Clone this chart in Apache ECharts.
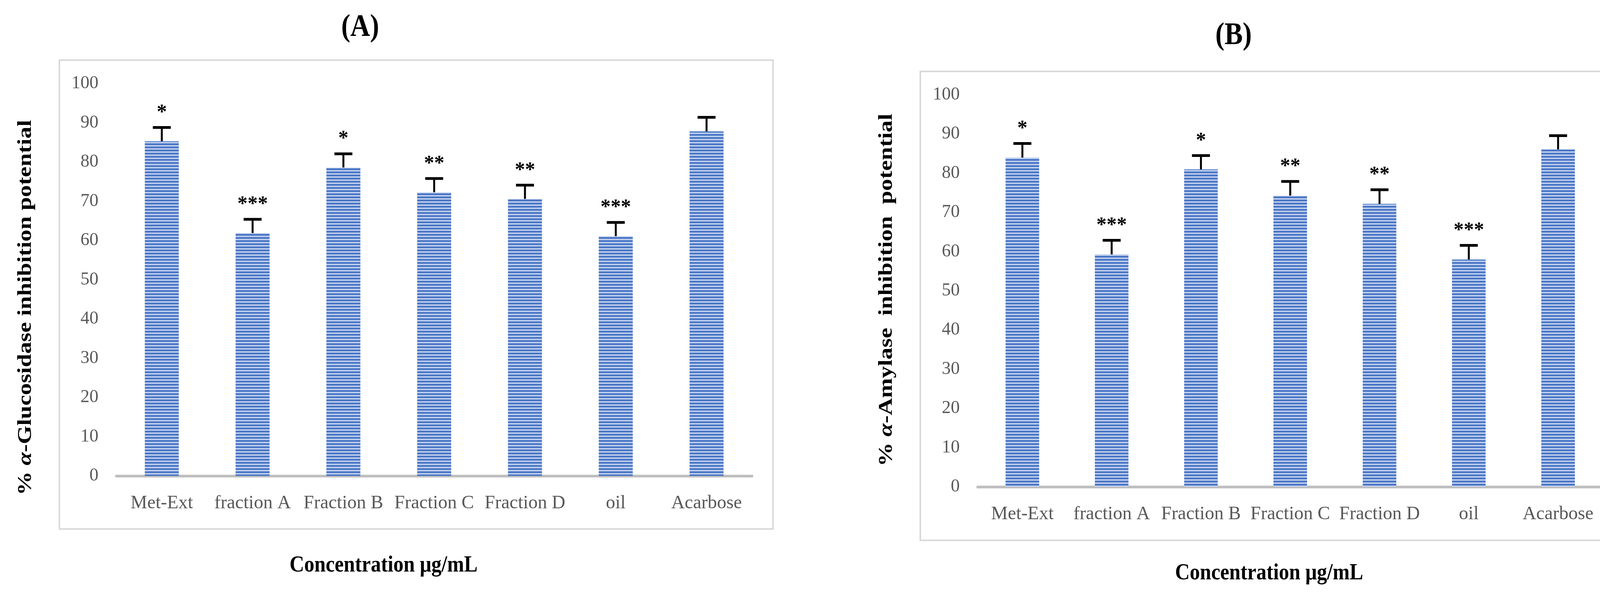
<!DOCTYPE html>
<html><head><meta charset="utf-8">
<script src="https://cdn.jsdelivr.net/npm/echarts@6/dist/echarts.min.js"></script>
<style>html,body{margin:0;padding:0;background:#fff}#c{width:4227px;height:1542px}</style>
</head><body><div id="c"></div>
<script>
const categories = ['Met-Ext', 'fraction A', 'Fraction B', 'Fraction C', 'Fraction D', 'oil', 'Acarbose'];
const glucosidaseValues = [85.3, 61.9, 78.6, 72.3, 70.6, 61.1, 87.8];
const glucosidaseErrors = [3.8, 3.8, 3.8, 3.8, 3.8, 3.8, 3.9];
const glucosidaseStars = ['*', '***', '*', '**', '**', '***', ''];
const amylaseValues = [84.0, 59.3, 81.0, 74.3, 72.2, 58.0, 86.1];
const amylaseErrors = [3.9, 3.9, 3.8, 3.9, 3.9, 3.9, 3.8];
const amylaseStars = ['*', '***', '*', '**', '**', '***', ''];
const panelTitles = ['(A)', '(B)'];
const yTitleA = ['% ', '\u03b1', '-Glucosidase inhibition potential'];
const yTitleB = ['% ', '\u03b1', '-Amylase  inhibition  potential'];
const xTitle = 'Concentration \u03bcg/mL';
const yMin = 0, yMax = 100, yStep = 10;

function stripePattern() {
  const c = document.createElement('canvas');
  c.width = 4; c.height = 8;
  const g = c.getContext('2d');
  const rows = ['#4472C4', '#4472C4', '#4472C4', '#6f92d2', '#b5c7ea', '#dbe3f4', '#b5c7ea', '#6f92d2'];
  rows.forEach((col, i) => { g.fillStyle = col; g.fillRect(0, i, 4, 1); });
  return c;
}
const pattern = { image: stripePattern(), repeat: 'repeat' };

const serif = 'Liberation Serif';
function errSeries(idx, values, errors, stars) {
  return {
    type: 'custom', xAxisIndex: idx, yAxisIndex: idx, z: 5,
    data: values.map((v, i) => [i, v, errors[i]]),
    renderItem(params, api) {
      const x = api.value(0), v = api.value(1), e = api.value(2);
      const p0 = api.coord([x, v]);
      const p1 = api.coord([x, v + e]);
      const star = stars[params.dataIndex];
      return { type: 'group', children: [
        { type: 'line', shape: { x1: p0[0], y1: p0[1], x2: p1[0], y2: p1[1] + 3 }, style: { stroke: '#000', lineWidth: 5 } },
        { type: 'line', shape: { x1: p1[0] - 23, y1: p1[1] + 3, x2: p1[0] + 23, y2: p1[1] + 3 }, style: { stroke: '#000', lineWidth: 7 } },
        { type: 'text', x: p1[0], y: p1[1] - 34, style: { text: star, font: 'bold 52px ' + serif, fill: '#000', align: 'center', verticalAlign: 'middle' } }
      ] };
    }
  };
}
function xAx(idx) {
  return { type: 'category', gridIndex: idx, data: categories,
    axisLine: { lineStyle: { color: '#bfbfbf', width: 7 } }, axisTick: { show: false },
    axisLabel: { interval: 0, fontFamily: serif, fontSize: 48, color: '#595959', margin: 46 } };
}
function yAx(idx) {
  return { type: 'value', gridIndex: idx, min: yMin, max: yMax, interval: yStep,
    splitLine: { show: false }, axisLine: { show: false }, axisTick: { show: false },
    axisLabel: { fontFamily: serif, fontSize: 46, color: '#595959', margin: 46 } };
}
function yTitle(parts, x, y) {
  return { type: 'text', x: x, y: y, rotation: Math.PI / 2, scaleX: 1.225,
    style: { text: parts[0] + '{i|' + parts[1] + '}' + parts[2], font: 'bold 50px ' + serif, fill: '#000', align: 'center', verticalAlign: 'middle',
      rich: { i: { font: 'italic bold 50px ' + serif, fill: '#000' } } } };
}
const chart = echarts.init(document.getElementById('c'), null, { renderer: 'canvas' });
chart.setOption({
  backgroundColor: '#fff',
  animation: false,
  grid: [
    { left: 298, top: 214, width: 1627, height: 1005 },
    { left: 2503, top: 243, width: 1600, height: 1004 }
  ],
  xAxis: [xAx(0), xAx(1)],
  yAxis: [yAx(0), yAx(1)],
  series: [
    { type: 'bar', xAxisIndex: 0, yAxisIndex: 0, data: glucosidaseValues, barWidth: 87, itemStyle: { color: pattern }, z: 3 },
    { type: 'bar', xAxisIndex: 1, yAxisIndex: 1, data: amylaseValues, barWidth: 86, itemStyle: { color: pattern }, z: 3 },
    errSeries(0, glucosidaseValues, glucosidaseErrors, glucosidaseStars),
    errSeries(1, amylaseValues, amylaseErrors, amylaseStars)
  ],
  graphic: [
    { type: 'rect', shape: { x: 152, y: 154, width: 1827, height: 1201 }, style: { fill: 'none', stroke: '#d9d9d9', lineWidth: 4 }, z: -1 },
    { type: 'rect', shape: { x: 2356, y: 183, width: 1801, height: 1201 }, style: { fill: 'none', stroke: '#d9d9d9', lineWidth: 4 }, z: -1 },
    { type: 'text', x: 922, y: 71, scaleY: 1.15, style: { text: panelTitles[0], font: 'bold 70px ' + serif, fill: '#000', align: 'center', verticalAlign: 'middle' } },
    { type: 'text', x: 3158, y: 92, scaleY: 1.15, style: { text: panelTitles[1], font: 'bold 70px ' + serif, fill: '#000', align: 'center', verticalAlign: 'middle' } },
    yTitle(yTitleA, 66, 788),
    yTitle(yTitleB, 2270, 743),
    { type: 'text', x: 982, y: 1449, scaleY: 1.15, style: { text: xTitle, font: 'bold 52px ' + serif, fill: '#000', align: 'center', verticalAlign: 'middle' } },
    { type: 'text', x: 3249, y: 1469, scaleY: 1.15, style: { text: xTitle, font: 'bold 52px ' + serif, fill: '#000', align: 'center', verticalAlign: 'middle' } }
  ]
});
</script></body></html>
